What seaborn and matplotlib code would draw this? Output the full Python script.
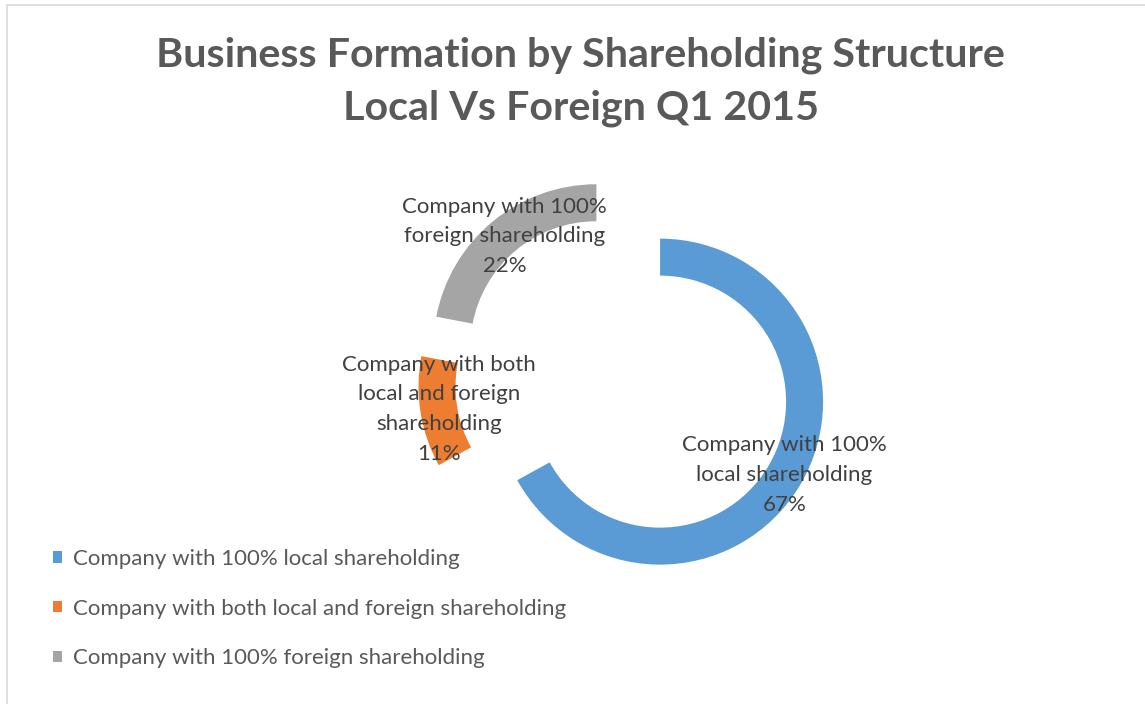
import matplotlib
matplotlib.use("Agg")
import matplotlib.pyplot as plt
import seaborn as sns

# data
categories = [
    "Company with 100% local shareholding",
    "Company with both local and foreign shareholding",
    "Company with 100% foreign shareholding",
]
wrapped_labels = [
    "Company with 100%\nlocal shareholding",
    "Company with both\nlocal and foreign\nshareholding",
    "Company with 100%\nforeign shareholding",
]
shares = [67, 11, 22]
colors = ["#5B9BD5", "#ED7D31", "#A5A5A5"]

sns.set_theme(style="white")
plt.rcParams["font.family"] = ["Lato", "DejaVu Sans"]

W, H = 1145, 704
fig = plt.figure(figsize=(W / 100, H / 100), dpi=100)
ax = fig.add_axes([0, 0, 1, 1])

total = sum(shares)
labels = [f"{lab}\n{round(v / total * 100)}%" for lab, v in zip(wrapped_labels, shares)]

radius = 163
wedges, texts = ax.pie(
    shares,
    colors=colors,
    labels=labels,
    startangle=90,
    counterclock=False,
    explode=[42.5] * len(shares),   # explode is in data units here
    radius=radius,
    center=(623.5, H - 380),
    labeldistance=0.885,
    wedgeprops=dict(width=37, linewidth=0),
    frame=True,
)
ax.set_xlim(0, W)
ax.set_ylim(0, H)
ax.set_aspect("equal")
ax.axis("off")
for t in texts:
    t.set_ha("center")
    t.set_va("center")
    t.set_fontsize(16)
    t.set_color("#404040")
    t.set_linespacing(1.6)

fig.text(0.507, 1 - 82 / H, "Business Formation by Shareholding Structure\nLocal Vs Foreign Q1 2015",
         ha="center", va="center", fontsize=29.7, fontweight="bold", color="#595959",
         linespacing=1.5)

leg = ax.legend(wedges, categories, loc="upper left",
                bbox_to_anchor=(53 / W, 1 - 549 / H), bbox_transform=fig.transFigure,
                frameon=False, fontsize=16, handlelength=0.4, handleheight=0.4,
                handletextpad=0.5, labelspacing=1.33, borderaxespad=0, borderpad=0)
for txt in leg.get_texts():
    txt.set_color("#595959")

# chart border (top and left edges visible)
fig.add_artist(plt.Line2D([7 / W, 1], [1 - 5 / H, 1 - 5 / H], color="#d9d9d9", lw=1.2))
fig.add_artist(plt.Line2D([7 / W, 7 / W], [0, 1 - 5 / H], color="#d9d9d9", lw=1.2))

fig.savefig("out.png", dpi=100)
